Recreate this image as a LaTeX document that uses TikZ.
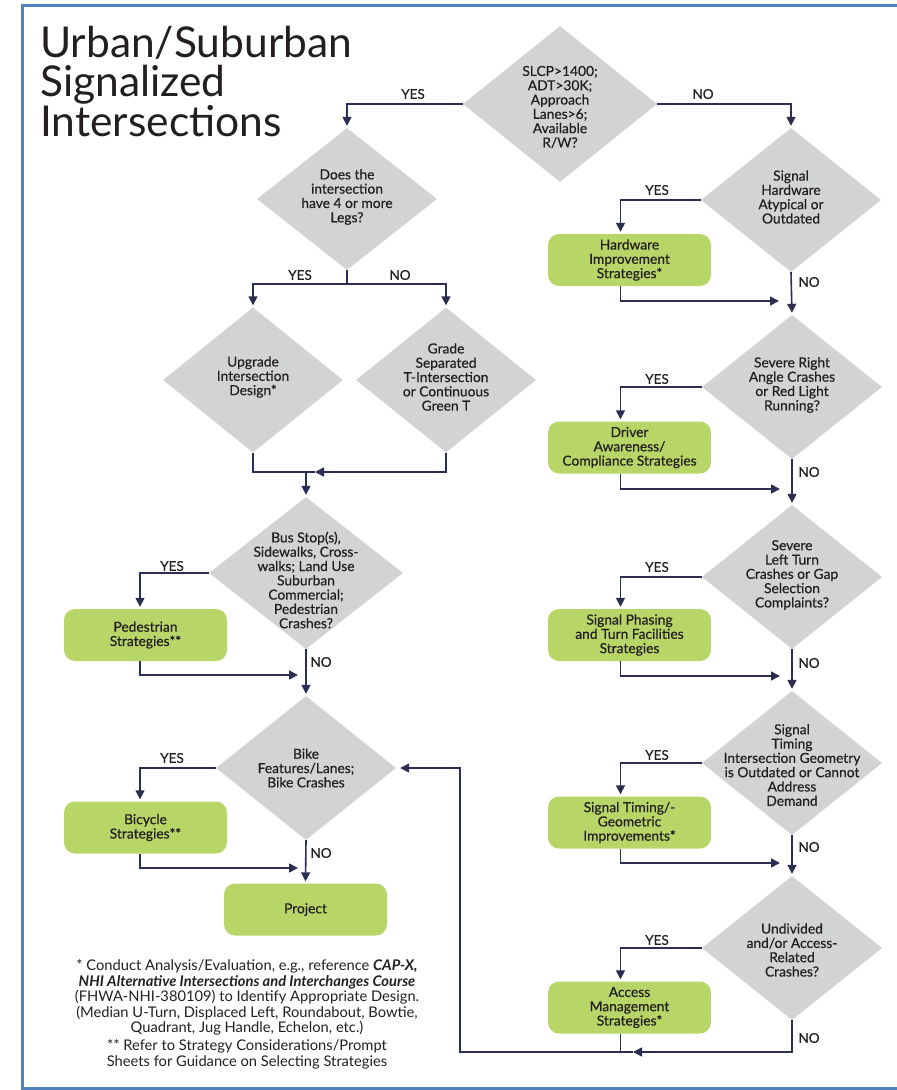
\documentclass[tikz,border=0pt]{standalone}
\usepackage{fontspec}
\setmainfont{Lato}
\newfontfamily\medfont{Lato}[FakeBold=0.5]
\usetikzlibrary{shapes.geometric,arrows.meta}
\definecolor{ink}{RGB}{35,31,32}
\definecolor{navy}{RGB}{44,45,82}
\definecolor{dgray}{RGB}{209,211,212}
\definecolor{lgreen}{RGB}{184,214,103}
\definecolor{frame}{RGB}{79,129,189}
\begin{document}
\begin{tikzpicture}[x=1pt,y=-1pt,
  dia/.style={diamond, fill=dgray, inner sep=0pt, minimum width=180pt, minimum height=144pt},
  dtext/.style={align=center, text=ink, inner sep=0pt, font=\medfont\fontsize{13.8}{14.3}\selectfont},
  strat/.style={rounded corners=11pt, fill=lgreen, minimum width=163pt, minimum height=52pt,
                inner sep=0pt, align=center, text=ink, font=\medfont\fontsize{13.8}{14.3}\selectfont},
  yn/.style={inner sep=0pt, text=ink, font=\medfont\fontsize{13.5}{14}\selectfont},
  note/.style={align=center, inner sep=0pt, text=ink, anchor=base,
               font=\fontsize{14.7}{15.5}\selectfont},
  link/.style={draw=navy, line width=1.6pt},
  flow/.style={link, -{Triangle[length=9pt,width=9pt]}, shorten >=2pt}]
\useasboundingbox (0,0) rectangle (897,1090);
\clip (0,0) rectangle (897,1090);

% page frame
\draw[frame, line width=3pt] (22,5.5) rectangle (920,1088.5);

% title (base anchor sits on the last line)
\node[anchor=base west, align=left, inner sep=0pt, text=ink,
      font=\fontsize{42.5}{39.5}\selectfont] (title) at (40,136)
  {Urban/Suburban\\Signalized\\Intersections};

% decision diamonds
\node[dia, minimum width=194pt, minimum height=156pt] (d1) at (560,104) {};
\node[dtext] (t1) at (560,107) {SLCP>1400;\\ADT>30K;\\Approach\\Lanes>6;\\Available\\R/W?};
\node[dia, minimum height=142pt] (d2) at (347,199) {};
\node[dtext] (t2) at (347,197) {Does the\\intersection\\have 4 or more\\Legs?};
\node[dia] (d3) at (791,200) {};
\node[dtext] (t3) at (791,197) {Signal\\Hardware\\Atypical or\\Outdated};
\node[dia, minimum height=145pt] (d4) at (253,380) {};
\node[dtext] (t4) at (253,377) {Upgrade\\Intersection\\Design*};
\node[dia, minimum height=145pt] (d5) at (446,380) {};
\node[dtext] (t5) at (446,377) {Grade\\Separated\\T-Intersection\\or Continuous\\Green T};
\node[dia, minimum width=194pt, minimum height=152pt] (d6) at (306,573) {};
\node[dtext] (t6) at (306,580) {Bus Stop(s),\\Sidewalks, Cross-\\walks; Land Use\\Suburban\\Commercial;\\Pedestrian\\Crashes?};
\node[dia] (d7) at (306,768) {};
\node[dtext] (t7) at (306,768) {Bike\\Features/Lanes;\\Bike Crashes};
\node[dia] (d8) at (792,387) {};
\node[dtext] (t8) at (792,385) {Severe Right\\Angle Crashes\\or Red Light\\Running?};
\node[dia] (d9) at (792,577) {};
\node[dtext] (t9) at (792,575) {Severe\\Left Turn\\Crashes or Gap\\Selection\\Complaints?};
\node[dia] (d10) at (792,763) {};
\node[dtext] (t10) at (792,765) {Signal\\Timing\\Intersection Geometry\\is Outdated or Cannot\\Address\\Demand};
\node[dia] (d11) at (792,948) {};
\node[dtext] (t11) at (792,950) {Undivided\\and/or Access-\\Related\\Crashes?};

% strategy boxes
\node[strat] (b1) at (629.5,260) {Hardware\\Improvement\\Strategies*};
\node[strat] (b2) at (629.5,447.5) {Driver\\Awareness/\\Compliance Strategies};
\node[strat] (b3) at (629.5,635) {Signal Phasing\\and Turn Facilities\\Strategies};
\node[strat] (b4) at (629.5,822.5) {Signal Timing/-\\Geometric\\Improvements*};
\node[strat] (b5) at (629.5,1007.5) {Access\\Management\\Strategies*};
\node[strat] (bp) at (145.5,635) {Pedestrian\\Strategies**};
\node[strat] (bb) at (145.5,827.5) {Bicycle\\Strategies**};
\node[strat] (bj) at (305.5,909.5) {Project};

% junction points
\coordinate (s2) at (347,284);
\coordinate (m1) at (306,472);
\coordinate (m2) at (315,472);
\coordinate (j6) at (298,675);
\coordinate (j7) at (298,868);
\coordinate (r1) at (779,301);
\coordinate (r2) at (780,489);
\coordinate (r3) at (780,676);
\coordinate (r4) at (780,863);
\coordinate (c0) at (620.5,1052);
\coordinate (c1) at (633,1052);
\coordinate (c2) at (460,1052);
\coordinate (c3) at (460,768);

% left branch
\draw[flow] (d1.west) -| (d2.north);
\draw[link] (d2.south) -- (s2);
\draw[flow] (s2) -| (d4.north);
\draw[flow] (s2) -| (d5.north);
\draw[flow, shorten >=0pt] (d5.south) |- (m2);
\draw[link] (d4.south) |- (m2);
\draw[flow] (m1) -- (d6.north);
\draw[flow] (d6.west) -| ([xshift=-5.5pt]bp.north);
\draw[flow, shorten >=0pt] ([xshift=-5.5pt]bp.south) |- (j6);
\draw[flow] (d6.south) -- (d7.north);
\draw[flow] (d7.west) -| ([xshift=-5.5pt]bb.north);
\draw[flow, shorten >=0pt] ([xshift=-5.5pt]bb.south) |- (j7);
\draw[flow] (d7.south) -- (bj.north);

% right branch
\draw[flow] (d1.east) -| (d3.north);
\draw[flow] (d3.west) -| ([xshift=-9pt]b1.north);
\draw[flow, shorten >=0pt] ([xshift=-9pt]b1.south) |- (r1);
\draw[flow] (d3.south) -- (d8.north);
\draw[flow] (d8.west) -| ([xshift=-9pt]b2.north);
\draw[flow, shorten >=0pt] ([xshift=-9pt]b2.south) |- (r2);
\draw[flow] (d8.south) -- (d9.north);
\draw[flow] (d9.west) -| ([xshift=-9pt]b3.north);
\draw[flow, shorten >=0pt] ([xshift=-9pt]b3.south) |- (r3);
\draw[flow] (d9.south) -- (d10.north);
\draw[flow] (d10.west) -| ([xshift=-9pt]b4.north);
\draw[flow, shorten >=0pt] ([xshift=-9pt]b4.south) |- (r4);
\draw[flow] (d10.south) -- (d11.north);
\draw[flow] (d11.west) -| ([xshift=-9pt]b5.north);

% loop back to the bike question
\draw[link] ([xshift=-9pt]b5.south) -- (c0);
\draw[flow, shorten >=0pt] (d11.south) |- (c1);
\draw[flow, shorten >=4pt] (c1) -- (c2) -- (c3) -- (d7.east);

% branch labels
\node[yn] (y1) at (413,94) {YES};
\node[yn] (n1) at (703,94) {NO};
\node[yn] (y2) at (300,275) {YES};
\node[yn] (n2) at (400,275) {NO};
\node[yn] (y3) at (172,566) {YES};
\node[yn] (n3) at (321,662) {NO};
\node[yn] (y4) at (172,758) {YES};
\node[yn] (n4) at (321,853) {NO};
\node[yn] (y5) at (657,190) {YES};
\node[yn] (n5) at (809,282) {NO};
\node[yn] (y6) at (657,379) {YES};
\node[yn] (n6) at (809,472) {NO};
\node[yn] (y7) at (657,567) {YES};
\node[yn] (n7) at (809,663) {NO};
\node[yn] (y8) at (657,755) {YES};
\node[yn] (n8) at (809,847) {NO};
\node[yn] (y9) at (657,940) {YES};
\node[yn] (n9) at (809,1038) {NO};

% footnotes (base anchor sits on the last line)
\node[note] (fn1) at (247,1032.5)
  {* Conduct Analysis/Evaluation, e.g., reference \textbf{\textit{CAP-X,}}\\
   \textbf{\textit{NHI Alternative Intersections and Interchanges Course}}\\
   (FHWA-NHI-380109) to Identify Appropriate Design.\\
   (Median U-Turn, Displaced Left, Roundabout, Bowtie,\\
   Quadrant, Jug Handle, Echelon, etc.)};
\node[note] (fn2) at (247,1066)
  {** Refer to Strategy Considerations/Prompt\\
   Sheets for Guidance on Selecting Strategies};
\end{tikzpicture}
\end{document}
